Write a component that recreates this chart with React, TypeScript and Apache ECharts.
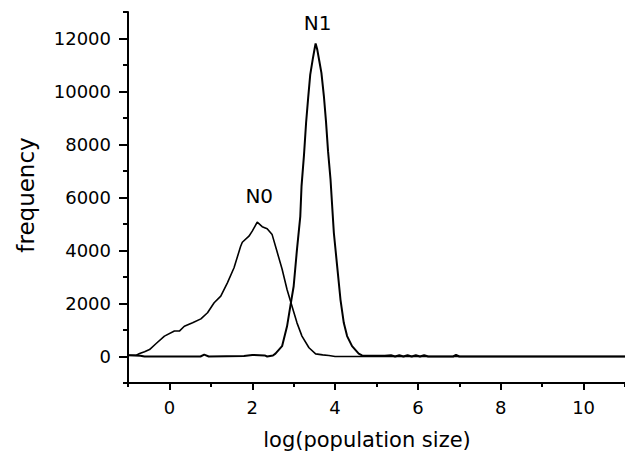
import React, { useEffect, useRef } from "react";
import * as echarts from "echarts";

const n0X = [-1, -0.8, -0.72, -0.6, -0.48, -0.32, -0.12, 0.12, 0.24, 0.36, 0.56, 0.76, 0.92, 1.08, 1.24, 1.4, 1.56, 1.72, 1.76, 1.92, 2.0, 2.12, 2.24, 2.36, 2.48, 2.6, 2.72, 2.84, 2.96, 3.08, 3.2, 3.37, 3.53, 3.7, 3.85, 4.0, 11];
const n0Y = [50, 50, 110, 180, 260, 490, 770, 960, 960, 1140, 1270, 1420, 1650, 2030, 2280, 2780, 3350, 4160, 4310, 4540, 4730, 5070, 4900, 4820, 4600, 3950, 3300, 2530, 1900, 1270, 770, 330, 100, 60, 40, 0, 0];

const n1X = [-1, -0.7, -0.6, 0.75, 0.84, 0.95, 1.8, 2.0, 2.3, 2.36, 2.5, 2.56, 2.72, 2.84, 2.92, 3.0, 3.08, 3.16, 3.19, 3.25, 3.3, 3.35, 3.4, 3.46, 3.51, 3.53, 3.57, 3.62, 3.67, 3.73, 3.78, 3.83, 3.89, 3.93, 3.97, 4.05, 4.13, 4.21, 4.29, 4.41, 4.57, 4.65, 4.8, 5.0, 5.2, 5.35, 5.45, 5.55, 5.65, 5.75, 5.85, 5.95, 6.05, 6.15, 6.25, 6.85, 6.92, 7.0, 11];
const n1Y = [50, 30, 0, 0, 70, 0, 20, 60, 40, 0, 40, 110, 390, 1140, 1900, 2650, 4040, 5290, 6430, 7620, 8820, 9760, 10640, 11210, 11650, 11810, 11580, 11140, 10700, 9820, 8880, 7750, 6680, 5670, 4670, 3410, 2150, 1270, 770, 390, 110, 40, 30, 30, 30, 50, 0, 50, 0, 50, 0, 50, 0, 50, 0, 0, 60, 0, 0];

const xMajor = [0, 2, 4, 6, 8, 10];
const xMinor = [-1, 1, 3, 5, 7, 9, 11];
const yMajor = [0, 2000, 4000, 6000, 8000, 10000, 12000];
const yMinor = [-1000, 1000, 3000, 5000, 7000, 9000, 11000, 13000];

const n0Peak = 21;
const n1Peak = 25;

const FONT = "DejaVu Sans";

export default function App() {
  const ref = useRef<HTMLDivElement>(null);
  useEffect(() => {
    if (!ref.current) return;
    const chart = echarts.init(ref.current, null, { renderer: "svg" });
    const mk = (xs: number[], ys: number[], peak: number, name: string, dist: number) =>
      xs.map((x, i) =>
        i === peak
          ? {
              value: [x, ys[i]],
              label: {
                show: true,
                formatter: name,
                position: "top",
                distance: dist,
                offset: [2, 0],
                color: "#000",
                fontFamily: FONT,
                fontSize: 20,
              },
            }
          : { value: [x, ys[i]] }
      );
    const axisCommonX = {
      type: "value",
      min: -1,
      max: 11,
      gridIndex: 0,
      position: "bottom",
      splitLine: { show: false },
    };
    const axisCommonY = {
      type: "value",
      min: -1000,
      max: 13000,
      gridIndex: 0,
      position: "left",
      splitLine: { show: false },
    };
    chart.setOption({
      animation: false,
      backgroundColor: "#fff",
      grid: { left: 128, right: -4, top: 12, bottom: 69 },
      xAxis: [
        {
          ...axisCommonX,
          axisLine: { show: true, onZero: false, lineStyle: { color: "#000", width: 2 } },
          axisTick: {
            show: true,
            inside: false,
            length: 7,
            customValues: xMajor,
            lineStyle: { color: "#000", width: 2 },
          },
          axisLabel: {
            show: true,
            customValues: xMajor,
            margin: 15,
            color: "#000",
            fontFamily: FONT,
            fontSize: 18,
            formatter: (v: number) => String(v),
          },
        },
        {
          ...axisCommonX,
          axisLine: { show: false, onZero: false },
          axisTick: {
            show: true,
            inside: false,
            length: 4,
            customValues: xMinor,
            lineStyle: { color: "#000", width: 2 },
          },
          axisLabel: { show: false },
        },
      ],
      yAxis: [
        {
          ...axisCommonY,
          axisLine: { show: true, onZero: false, lineStyle: { color: "#000", width: 2 } },
          axisTick: {
            show: true,
            inside: false,
            length: 9,
            customValues: yMajor,
            lineStyle: { color: "#000", width: 2 },
          },
          axisLabel: {
            show: true,
            customValues: yMajor,
            margin: 17,
            color: "#000",
            fontFamily: FONT,
            fontSize: 18,
            formatter: (v: number) => String(v),
          },
        },
        {
          ...axisCommonY,
          axisLine: { show: false, onZero: false },
          axisTick: {
            show: true,
            inside: false,
            length: 5,
            customValues: yMinor,
            lineStyle: { color: "#000", width: 2 },
          },
          axisLabel: { show: false },
        },
      ],
      graphic: [
        {
          type: "text",
          x: 26,
          y: 195,
          rotation: Math.PI / 2,
          style: {
            text: "frequency",
            fill: "#000",
            font: `23px "${FONT}"`,
            textAlign: "center",
            textVerticalAlign: "middle",
          },
        },
        {
          type: "text",
          x: 367,
          y: 440,
          style: {
            text: "log(population size)",
            fill: "#000",
            font: `21px "${FONT}"`,
            textAlign: "center",
            textVerticalAlign: "middle",
          },
        },
      ],
      series: [
        {
          type: "line",
          name: "N0",
          xAxisIndex: 0,
          yAxisIndex: 0,
          data: mk(n0X, n0Y, n0Peak, "N0", 16),
          showSymbol: true,
          symbol: "circle",
          symbolSize: 0,
          lineStyle: { color: "#000", width: 1.6 },
          itemStyle: { color: "#000" },
          z: 3,
        },
        {
          type: "line",
          name: "N1",
          xAxisIndex: 0,
          yAxisIndex: 0,
          data: mk(n1X, n1Y, n1Peak, "N1", 11),
          showSymbol: true,
          symbol: "circle",
          symbolSize: 0,
          lineStyle: { color: "#000", width: 2 },
          itemStyle: { color: "#000" },
          z: 3,
        },
      ],
    });
    return () => chart.dispose();
  }, []);
  return (
    <div
      ref={ref}
      style={{ position: "fixed", left: 0, top: 0, width: 625, height: 452 }}
    />
  );
}
